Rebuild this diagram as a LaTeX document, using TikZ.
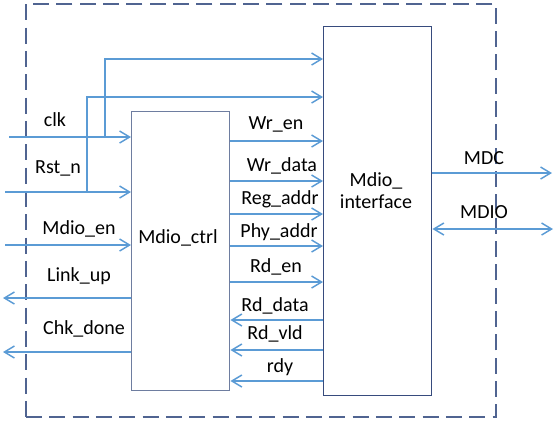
\documentclass[tikz,border=0pt]{standalone}
\usepackage{fontspec}
\setmainfont{Carlito}
\usetikzlibrary{arrows.meta}
\definecolor{sigblue}{RGB}{91,155,213}
\definecolor{ctrlcol}{RGB}{110,125,160}
\definecolor{ifcol}{RGB}{55,75,125}
\definecolor{dashcol}{RGB}{80,100,145}
\begin{document}
\begin{tikzpicture}[x=0.75pt,y=-0.75pt,
  sig/.style={draw=sigblue,line width=1.1pt,-{Straight Barb[length=7.5pt,width=9pt,line width=1.1pt]}},
  sigback/.style={draw=sigblue,line width=1.1pt,{Straight Barb[length=7.5pt,width=9pt,line width=1.1pt]}-},
  sigboth/.style={draw=sigblue,line width=1.1pt,{Straight Barb[length=7.5pt,width=9pt,line width=1.1pt]}-{Straight Barb[length=7.5pt,width=9pt,line width=1.1pt]}},
  blk/.style={draw, line width=1.1pt, fill=white, inner sep=0, anchor=north west},
  lbl/.style={font=\fontsize{15}{18}\selectfont, anchor=base, yshift=-4.8pt, inner sep=0}]
\useasboundingbox (0,0) rectangle (555,426);
% outer dashed frame
\node[draw=dashcol, line width=1.4pt, dash pattern=on 12pt off 5.5pt, inner sep=0,
      anchor=north west, minimum width=470*0.75pt, minimum height=413*0.75pt] (frame) at (25,3) {};
% blocks
\node[blk, draw=ctrlcol, minimum width=98*0.75pt, minimum height=279*0.75pt] (ctrl) at (131,111) {};
\node[blk, draw=ifcol, minimum width=108*0.75pt, minimum height=369*0.75pt] (iface) at (323,26) {};
\node[lbl] (ctrltxt) at (178,237) {Mdio\_ctrl};
\node[font=\fontsize{15}{16.5}\selectfont, align=center, inner sep=0] (iftxt) at (376,191) {Mdio\_\\interface};
% external coordinates
\coordinate (clkin) at (9,137);
\coordinate (rstin) at (5,192);
\coordinate (enin) at (5,245);
\coordinate (linkout) at (3,298);
\coordinate (chkout) at (3,352);
\coordinate (clkbr) at (105,137);
\coordinate (rstbr) at (87,192);
\coordinate (mdcout) at (552,173);
\coordinate (mdioout) at (553,229);
% left inputs / outputs
\draw[sig] (clkin) -- (ctrl.west |- clkin);
\draw[sig] (rstin) -- (ctrl.west |- rstin);
\draw[sig] (enin) -- (ctrl.west |- enin);
\draw[sigback] (linkout) -- (ctrl.west |- linkout);
\draw[sigback] (chkout) -- (ctrl.west |- chkout);
\draw[sig] (clkbr) -- (105,59) -- (iface.west |- 0,59);
\draw[sig] (rstbr) -- (87,97) -- (iface.west |- 0,97);
\node[lbl] (lclk) at (55,120) {clk};
\node[lbl] (lrst) at (58,167) {Rst\_n};
\node[lbl] (len) at (79,228) {Mdio\_en};
\node[lbl] (llink) at (79,275) {Link\_up};
\node[lbl] (lchk) at (84,328) {Chk\_done};
% between blocks
\draw[sig] (ctrl.east |- 0,141) -- (iface.west |- 0,141);
\draw[sig] (ctrl.east |- 0,181) -- (iface.west |- 0,181);
\draw[sig] (ctrl.east |- 0,214) -- (iface.west |- 0,214);
\draw[sig] (ctrl.east |- 0,246) -- (iface.west |- 0,246);
\draw[sig] (ctrl.east |- 0,282) -- (iface.west |- 0,282);
\draw[sigback] (ctrl.east |- 0,320) -- (iface.west |- 0,320);
\draw[sigback] (ctrl.east |- 0,350) -- (iface.west |- 0,350);
\draw[sigback] (ctrl.east |- 0,381) -- (iface.west |- 0,381);
\node[lbl] (lwren) at (276,123) {Wr\_en};
\node[lbl] (lwrdata) at (282,165) {Wr\_data};
\node[lbl] (lreg) at (280,198) {Reg\_addr};
\node[lbl] (lphy) at (279,231) {Phy\_addr};
\node[lbl] (lrden) at (276,266) {Rd\_en};
\node[lbl] (lrddata) at (275,305) {Rd\_data};
\node[lbl] (lrdvld) at (275,333) {Rd\_vld};
\node[lbl] (lrdy) at (280,366) {rdy};
% right side
\draw[sig] (iface.east |- mdcout) -- (mdcout);
\draw[sigboth] (iface.east |- mdioout) -- (mdioout);
\node[lbl] (lmdc) at (484,158) {MDC};
\node[lbl] (lmdio) at (484,212) {MDIO};
\end{tikzpicture}
\end{document}
